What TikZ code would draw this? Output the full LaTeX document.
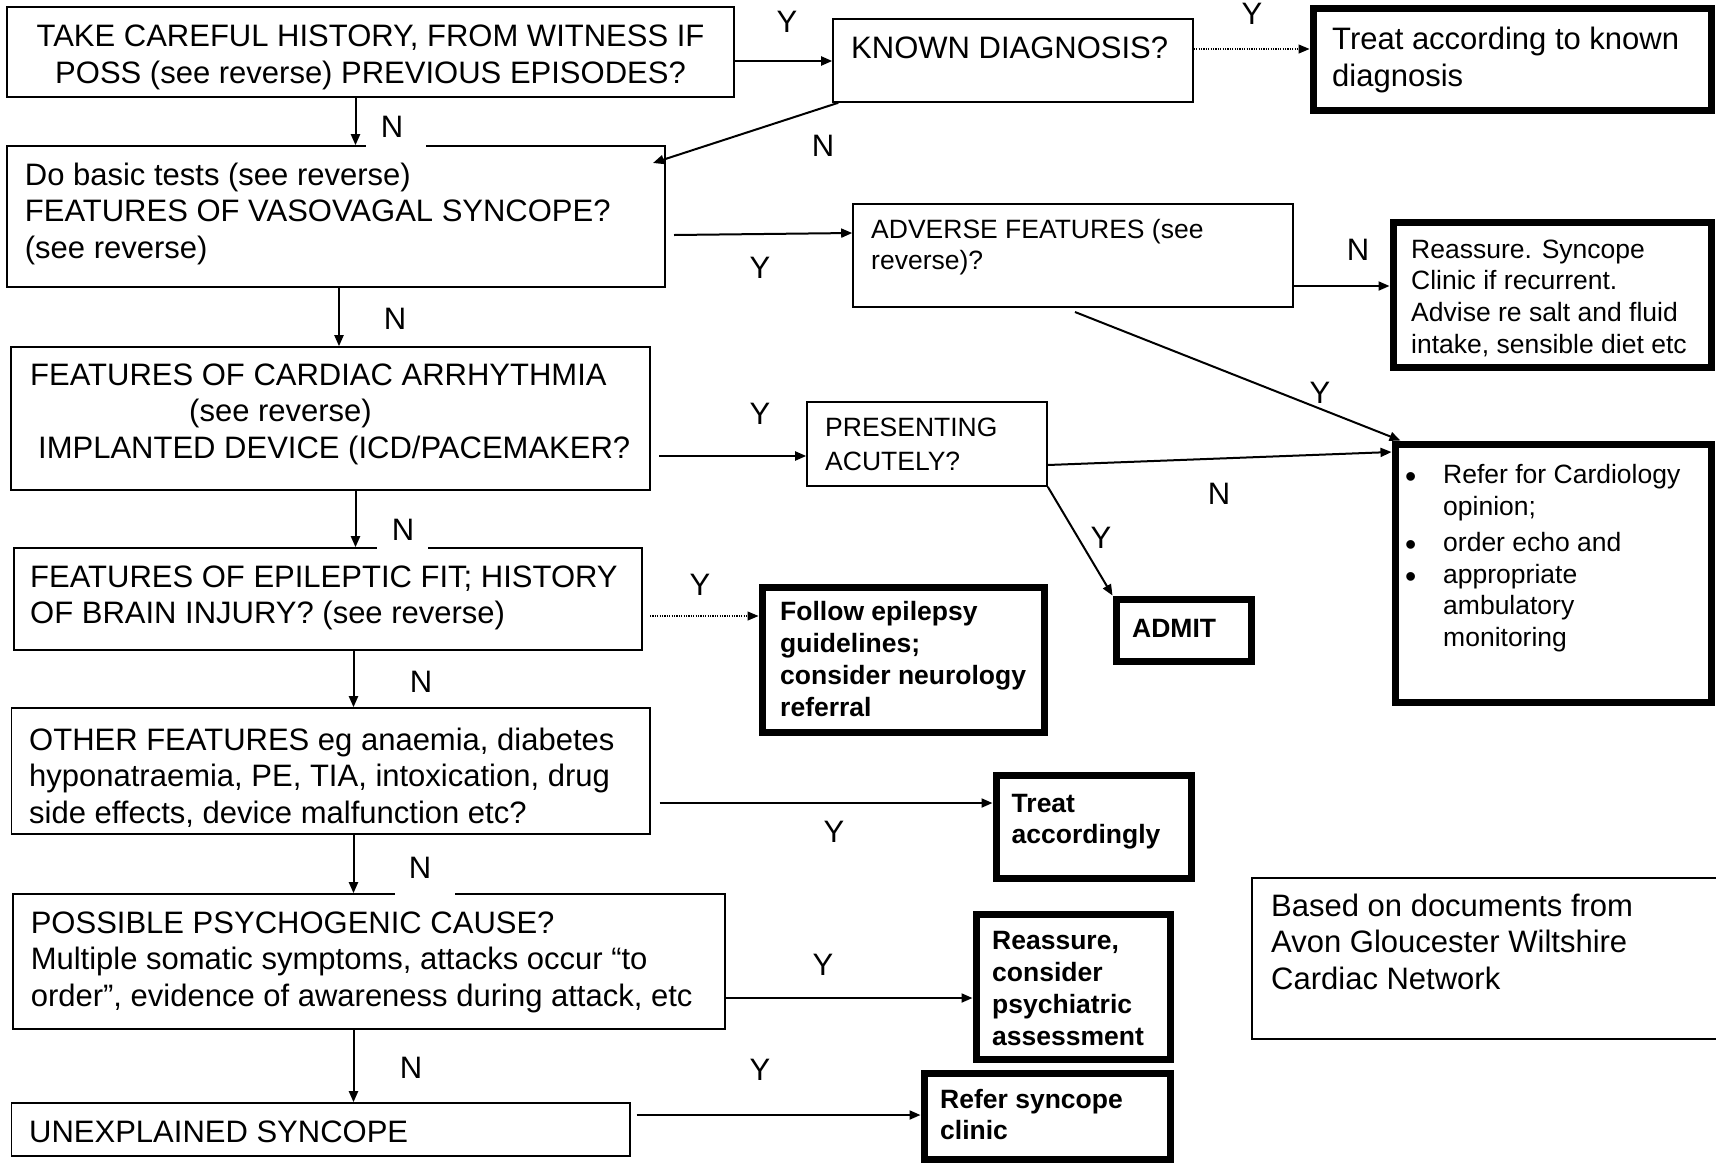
\documentclass[tikz,border=0pt]{standalone}
\usepackage{fontspec}
\setmainfont{Liberation Sans}
\usetikzlibrary{arrows.meta}
\newcommand{\bulletmark}{\llap{\raisebox{-4pt}[0pt][0pt]{\fontsize{32}{32}\selectfont•}\hspace{27pt}}}
\begin{document}
\begin{tikzpicture}[x=1pt,y=-1pt,
  thinbox/.style={draw, line width=1.6pt, inner sep=0pt, anchor=center},
  thickbox/.style={draw, line width=7pt, inner sep=0pt, anchor=center},
  bigtxt/.style={font=\fontsize{31}{36.5}\selectfont, inner sep=0pt, align=left, anchor=base west},
  smalltxt/.style={font=\fontsize{26.5}{31.7}\selectfont, inner sep=0pt, align=left, anchor=base west},
  boldtxt/.style={font=\fontsize{26.5}{31.7}\selectfont\bfseries, inner sep=0pt, align=left, anchor=base west},
  lbl/.style={font=\fontsize{31}{36}\selectfont, inner sep=0pt, anchor=center},
  arr/.style={line width=2pt, -{Triangle[length=11pt,width=9pt]}},
  dotarr/.style={line width=1.2pt, dash pattern=on 1.2pt off 1.2pt, -{Triangle[length=11pt,width=9pt]}}]
\fill[white] (0,0) rectangle (1716,1163);
\useasboundingbox (0,0) rectangle (1716,1163);

% boxes
\node[thinbox, minimum width=727, minimum height=90] (b1) at (370.5,52) {};
\node[thinbox, minimum width=360, minimum height=83] (kd) at (1013,60.5) {};
\node[thickbox, minimum width=398, minimum height=102] (tk) at (1512,59.5) {};
\node[thinbox, minimum width=658, minimum height=141] (b2) at (336,216.5) {};
\node[thinbox, minimum width=440, minimum height=103] (adv) at (1073,255.5) {};
\node[thickbox, minimum width=318, minimum height=145] (rs) at (1552,294.5) {};
\node[thinbox, minimum width=639, minimum height=143] (b3) at (330.5,418.5) {};
\node[thinbox, minimum width=240, minimum height=84] (pres) at (927,444) {};
\node[thickbox, minimum width=316, minimum height=258] (card) at (1553,573) {};
\node[thinbox, minimum width=628, minimum height=102] (b4) at (328,599) {};
\node[thickbox, minimum width=282, minimum height=145] (fol) at (903,659.5) {};
\node[thickbox, minimum width=135, minimum height=62] (admit) at (1183.5,630) {};
\node[thinbox, minimum width=638.5, minimum height=126] (b5) at (330.75,771) {};
\node[thickbox, minimum width=195, minimum height=103] (ta) at (1093.5,826.5) {};
\node[thinbox, minimum width=712, minimum height=135] (b6) at (369,961.5) {};
\node[thickbox, minimum width=194, minimum height=145] (rc) at (1073,986.5) {};
\node[thinbox, minimum width=618.5, minimum height=53] (b7) at (320.75,1129.5) {};
\node[thickbox, minimum width=246, minimum height=86] (rsc) at (1047,1116) {};
\node[thinbox, minimum width=465, minimum height=161] (based) at (1484.5,958.5) {};

% texts (anchor = baseline of the LAST line)
\node[bigtxt, align=center, anchor=base] (t1) at (370.5,83.2) {TAKE CAREFUL HISTORY, FROM WITNESS IF\\POSS (see reverse) PREVIOUS EPISODES?};
\node[bigtxt] (tkd) at (851,58) {KNOWN DIAGNOSIS?};
\node[bigtxt] (ttk) at (1332,86) {Treat according to known\\diagnosis};
\node[bigtxt] (t2) at (24.7,258) {Do basic tests (see reverse)\\FEATURES OF VASOVAGAL SYNCOPE?\\(see reverse)};
\node[smalltxt] (tadv) at (871,269.7) {ADVERSE FEATURES (see\\reverse)?};
\node[smalltxt] (trs) at (1411,353.1) {Reassure. Syncope\\Clinic if recurrent.\\Advise re salt and fluid\\intake, sensible diet etc};
\node[bigtxt] (t3) at (30,458) {FEATURES OF CARDIAC ARRHYTHMIA\\\hspace*{159pt}(see reverse)\\\hspace*{8pt}IMPLANTED DEVICE (ICD/PACEMAKER?};
\node[smalltxt, font=\fontsize{26.5}{34}\selectfont] (tpres) at (825,470) {PRESENTING\\ACUTELY?};
\node[smalltxt, font=\fontsize{26.5}{31.5}\selectfont] (tcard) at (1443,646) {\bulletmark Refer for Cardiology\\opinion;\\[5pt]\bulletmark order echo and\\\bulletmark appropriate\\ambulatory\\monitoring};
\node[bigtxt] (t4) at (30,623.5) {FEATURES OF EPILEPTIC FIT; HISTORY\\OF BRAIN INJURY? (see reverse)};
\node[boldtxt] (tfol) at (780,716) {Follow epilepsy\\guidelines;\\consider neurology\\referral};
\node[boldtxt] (tadmit) at (1132,637) {ADMIT};
\node[bigtxt] (t5) at (29,823) {OTHER FEATURES eg anaemia, diabetes\\hyponatraemia, PE, TIA, intoxication, drug\\side effects, device malfunction etc?};
\node[boldtxt] (tta) at (1011.5,843.7) {Treat\\accordingly};
\node[bigtxt] (t6) at (30.6,1006) {POSSIBLE PSYCHOGENIC CAUSE?\\Multiple somatic symptoms, attacks occur “to\\order”, evidence of awareness during attack, etc};
\node[boldtxt] (trc) at (992,1045) {Reassure,\\consider\\psychiatric\\assessment};
\node[bigtxt] (t7) at (29,1142) {UNEXPLAINED SYNCOPE};
\node[boldtxt] (trsc) at (940,1139.7) {Refer syncope\\clinic};
\node[bigtxt] (tbased) at (1271,989) {Based on documents from\\Avon Gloucester Wiltshire\\Cardiac Network};

% free ends
\coordinate (kdin) at (653,163);
\coordinate (b2out) at (674,235);
\coordinate (advout) at (1075,312);
\coordinate (b3out) at (659,456);
\coordinate (b4out) at (650,616);
\coordinate (b5out) at (659.5,803);
\coordinate (b7out) at (636.6,1115);

% connectors
\draw[arr] (b1.east |- 0,61) -- (kd.west |- 0,61);
\draw[dotarr] (kd.east |- 0,49) -- (tk.west |- 0,49);
\draw[arr] ([xshift=6pt]kd.south west) -- (kdin);
\draw[arr] (355.5,0 |- b1.south) -- (355.5,0 |- b2.north);
\draw[arr] (b2out) -- (adv.west |- 0,233);
\draw[arr] (adv.east |- 0,286) -- (rs.west |- 0,286);
\draw[arr] (advout) -- ([xshift=9pt]card.north west);
\draw[arr] (339,0 |- b2.south) -- (339,0 |- b3.north);
\draw[arr] (b3out) -- (pres.west |- 0,456);
\draw[arr] (pres.east |- 0,465) -- (card.west |- 0,452);
\draw[arr] (pres.south east) -- (admit.north west);
\draw[arr] (355.5,0 |- b3.south) -- (355.5,0 |- b4.north);
\draw[dotarr] (b4out) -- (fol.west |- 0,616);
\draw[arr] (353.5,0 |- b4.south) -- (353.5,0 |- b5.north);
\draw[arr] (b5out) -- (ta.west |- 0,803);
\draw[arr] (353.5,0 |- b5.south) -- (353.5,0 |- b6.north);
\draw[arr] (b6.east |- 0,998) -- (rc.west |- 0,998);
\draw[arr] (353.5,0 |- b6.south) -- (353.5,0 |- b7.north);
\draw[arr] (b7out) -- (rsc.west |- 0,1115);

% gaps in borders under labels
\fill[white] (366,140) rectangle (426,149);
\fill[white] (377,543) rectangle (428,551);
\fill[white] (395,889) rectangle (455,897);

% labels
\node[lbl] (y1) at (787,22) {Y};
\node[lbl] (y2) at (1252,14) {Y};
\node[lbl] (n1) at (392,127) {N};
\node[lbl] (n2) at (823,146) {N};
\node[lbl] (y3) at (760,268) {Y};
\node[lbl] (n3) at (1358,250) {N};
\node[lbl] (n4) at (395,319) {N};
\node[lbl] (y4) at (1320,393) {Y};
\node[lbl] (y5) at (760,414) {Y};
\node[lbl] (n5) at (1219,494) {N};
\node[lbl] (y6) at (1101,538) {Y};
\node[lbl] (n6) at (403,530) {N};
\node[lbl] (y7) at (700,585) {Y};
\node[lbl] (n7) at (421,682) {N};
\node[lbl] (y8) at (834,832) {Y};
\node[lbl] (n8) at (420,868) {N};
\node[lbl] (y9) at (823,965) {Y};
\node[lbl] (n9) at (411,1068) {N};
\node[lbl] (y10) at (760,1070) {Y};
\end{tikzpicture}
\end{document}
